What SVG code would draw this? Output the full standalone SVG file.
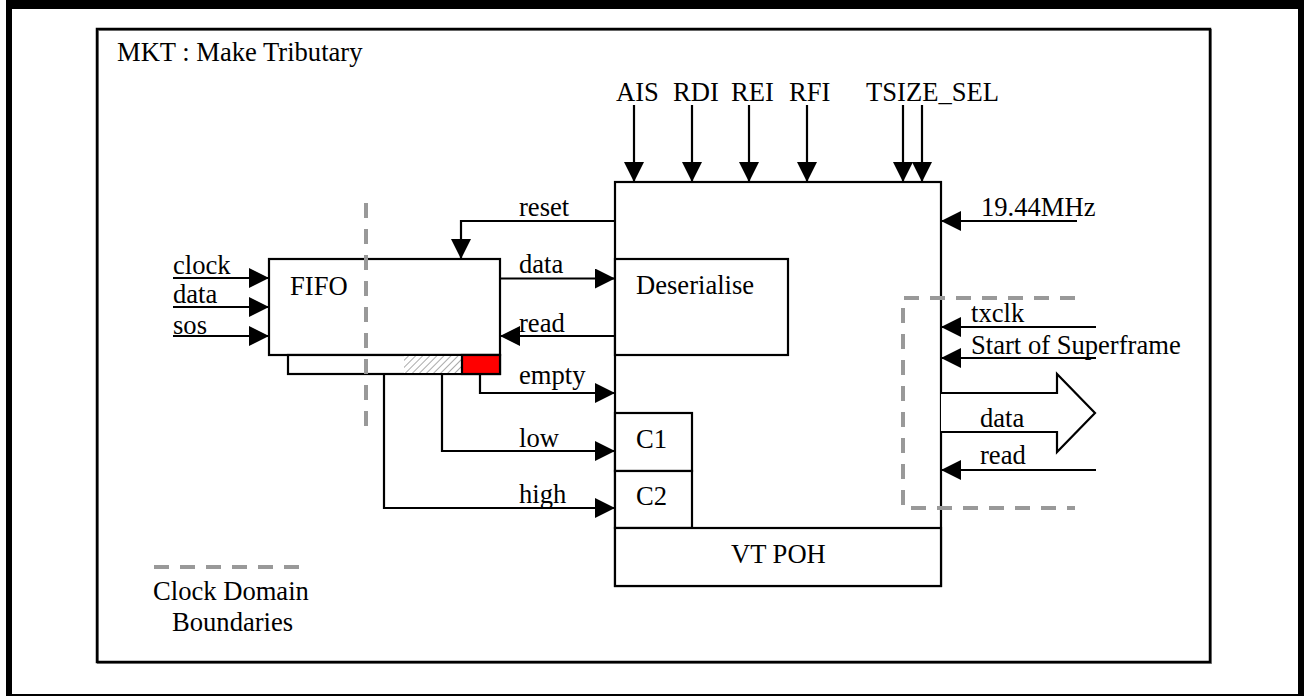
<svg xmlns="http://www.w3.org/2000/svg" width="1304" height="696" viewBox="0 0 1304 696">
<style>
text{font-family:"Liberation Serif","Times New Roman",serif;font-size:26.6px;fill:#000}
.box{fill:#fff;stroke:#000;stroke-width:2.2}
.ln{fill:none;stroke:#000;stroke-width:2.2}
.arr{marker-end:url(#ah)}
.dash{fill:none;stroke:#999;stroke-width:4;stroke-dasharray:15 11}
</style>
<defs>
<marker id="ah" viewBox="0 0 20 20" refX="20" refY="10" markerWidth="20" markerHeight="20" markerUnits="userSpaceOnUse" orient="auto">
<path d="M0,0 L20,10 L0,20 z" fill="#000"/>
</marker>
<pattern id="hatch" width="5" height="5" patternUnits="userSpaceOnUse" patternTransform="rotate(45)">
<rect width="5" height="5" fill="#fff"/>
<line x1="0" y1="0" x2="0" y2="5" stroke="#aaa" stroke-width="2"/>
</pattern>
</defs>
<rect width="1304" height="696" fill="#fff"/>
<g id="frame">
<rect x="6" y="0" width="6" height="696" fill="#000"/>
<rect x="6" y="0" width="1298" height="9" fill="#000"/>
<rect x="1298" y="0" width="6" height="696" fill="#000"/>
<rect x="6" y="694" width="1298" height="2" fill="#000"/>
<rect x="98" y="30" width="1113" height="633" fill="none" stroke="#888" stroke-width="2"/>
<rect x="97" y="29" width="1113" height="633" fill="none" stroke="#000" stroke-width="2.5"/>
<text x="117" y="61">MKT : Make Tributary</text>
</g>
<g id="main-block">
<rect class="box" x="615" y="182" width="326" height="404"/>
</g>
<g id="deserialise">
<rect class="box" x="615" y="259" width="173" height="96"/>
<text x="636" y="294">Deserialise</text>
</g>
<g id="c1">
<rect class="box" x="615" y="413" width="77" height="58"/>
<text x="636" y="448">C1</text>
</g>
<g id="c2">
<rect class="box" x="615" y="471" width="77" height="57"/>
<text x="636" y="505">C2</text>
</g>
<g id="vtpoh">
<rect class="box" x="615" y="528" width="326" height="58"/>
<text x="731" y="563">VT POH</text>
</g>
<g id="fifo">
<rect class="box" x="269" y="259" width="231" height="96"/>
<text x="290" y="295">FIFO</text>
<rect class="box" x="288" y="355" width="212" height="19"/>
<rect x="404" y="356" width="58" height="17" fill="url(#hatch)"/>
<rect x="462" y="355" width="38" height="19" fill="#f00" stroke="#000" stroke-width="2.2"/>
</g>
<g id="clock-domains">
<path class="dash" d="M366,203 V428"/>
<path class="dash" d="M1075,298 H903 V508 H1075"/>
</g>
<g id="connectors">
<path class="ln arr" d="M173,278 H269"/>
<path class="ln arr" d="M173,307 H269"/>
<path class="ln arr" d="M173,336 H269"/>
<path class="ln arr" d="M615,221 H461 V259"/>
<path class="ln arr" d="M500,278.5 H615"/>
<path class="ln arr" d="M615,336 H500"/>
<path class="ln arr" d="M480,374 V393 H615"/>
<path class="ln arr" d="M442,374 V451 H615"/>
<path class="ln arr" d="M384,374 V508 H615"/>
<path class="ln arr" d="M634,105 V182"/>
<path class="ln arr" d="M692,105 V182"/>
<path class="ln arr" d="M749,105 V182"/>
<path class="ln arr" d="M807,105 V182"/>
<path class="ln arr" d="M903,105 V182"/>
<path class="ln arr" d="M922,105 V182"/>
<path class="ln arr" d="M1077,221 H941"/>
<path class="ln arr" d="M1096,327 H941"/>
<path class="ln arr" d="M1096,358 H941"/>
<path class="ln arr" d="M1096,470 H941"/>
<path d="M941,393 H1057 V374 L1095,413 L1057,452 V432 H941" fill="#fff" stroke="#000" stroke-width="2.2"/>
</g>
<g id="labels">
<text x="173" y="274">clock</text>
<text x="173" y="303">data</text>
<text x="173" y="334">sos</text>
<text x="519" y="216">reset</text>
<text x="519" y="273">data</text>
<text x="519" y="332">read</text>
<text x="519" y="384">empty</text>
<text x="519" y="447">low</text>
<text x="519" y="503">high</text>
<text x="616" y="101">AIS</text>
<text x="673" y="101">RDI</text>
<text x="731" y="101">REI</text>
<text x="789" y="101">RFI</text>
<text x="866" y="101">TSIZE_SEL</text>
<text x="981" y="216">19.44MHz</text>
<text x="971" y="322">txclk</text>
<text x="971" y="354">Start of Superframe</text>
<text x="980" y="427">data</text>
<text x="980" y="464">read</text>
</g>
<g id="legend">
<path class="dash" d="M154,567 H300"/>
<text x="153" y="600">Clock Domain</text>
<text x="172" y="631">Boundaries</text>
</g>
</svg>
